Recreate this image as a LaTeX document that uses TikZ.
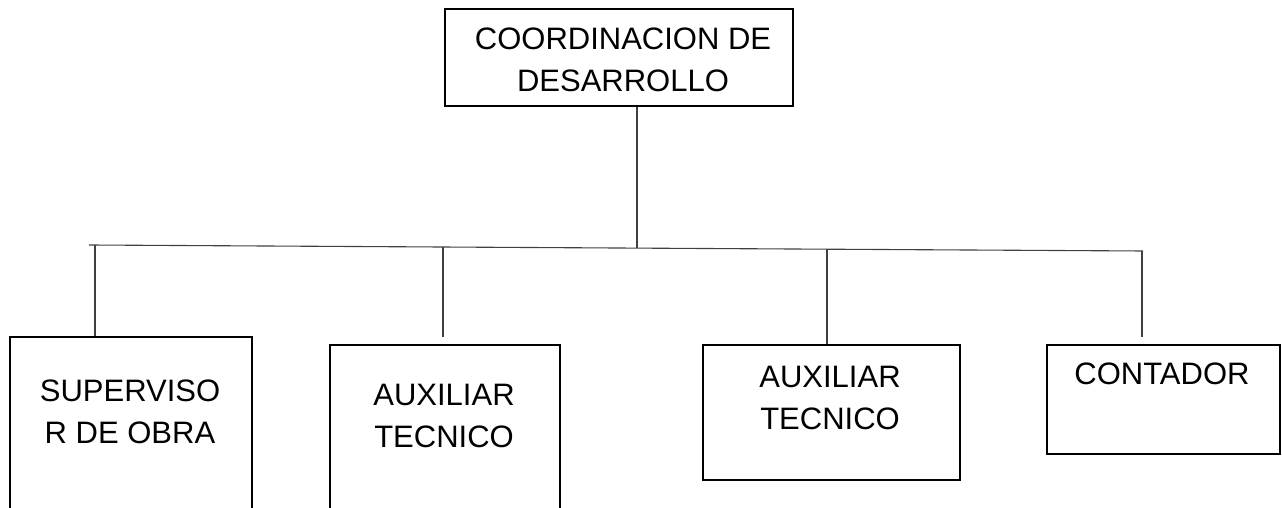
\documentclass[tikz,border=0pt]{standalone}
\usepackage{fontspec}
\setmainfont{Liberation Sans}
\begin{document}
\begin{tikzpicture}[x=1pt,y=1pt,
  box/.style={draw=black,line width=2pt,inner sep=0pt},
  txt/.style={align=center,font=\fontsize{31}{42}\selectfont,inner sep=0pt},
  conn/.style={draw=black!75,line width=1.1pt}]
\useasboundingbox (0,0) rectangle (1282,508);
\clip (0,0) rectangle (1282,508);
% boxes
\node[box,minimum width=348pt,minimum height=97pt] (top) at (619,450.5) {};
\node[box,minimum width=242pt,minimum height=191pt] (b1) at (131,75.5) {};
\node[box,minimum width=230pt,minimum height=173pt] (b2) at (445,76.5) {};
\node[box,minimum width=257pt,minimum height=135pt] (b3) at (831.5,95.5) {};
\node[box,minimum width=233pt,minimum height=109pt] (b4) at (1163.5,108.5) {};
% texts
\node[txt] (ttop) at (623,448) {COORDINACION DE\\DESARROLLO};
\node[txt] (t1) at (130,96) {SUPERVISO\\R DE OBRA};
\node[txt] (t2) at (444,92.5) {AUXILIAR\\TECNICO};
\node[txt] (t3) at (830,110.5) {AUXILIAR\\TECNICO};
\node[txt] (t4) at (1162,134) {CONTADOR};
% connector geometry
\coordinate (hL) at (89,263);
\coordinate (hR) at (1143,257);
\coordinate (j0) at (637,260);
\coordinate (d1) at (95,263);
\coordinate (d2) at (443,261);
\coordinate (d3) at (827,258.8);
\coordinate (d4) at (1142,257);
\coordinate (e2) at (443,171);
\coordinate (e4) at (1142,171);
% connectors
\draw[conn] (top.south -| j0) -- (j0);
\draw[conn] (hL) -- (hR);
\draw[conn] (d1) -- (d1 |- b1.north);
\draw[conn] (d2) -- (e2);
\draw[conn] (d3) -- (d3 |- b3.north);
\draw[conn] (d4) -- (e4);
\end{tikzpicture}
\end{document}
